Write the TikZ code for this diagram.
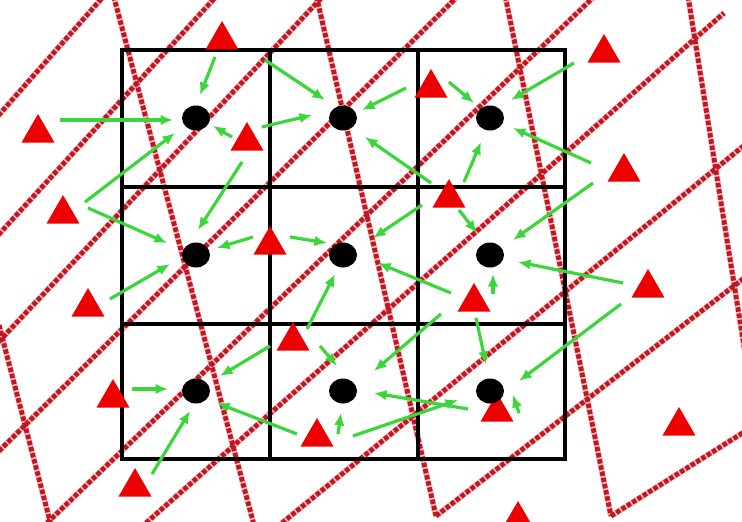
\documentclass[tikz,border=0pt]{standalone}
\usetikzlibrary{shapes.geometric,arrows.meta,calc}

\definecolor{meshred}{RGB}{196,22,34}
\definecolor{meshpink}{RGB}{246,196,196}
\definecolor{srcred}{RGB}{236,0,0}
\definecolor{flowgreen}{RGB}{58,214,58}

\begin{document}
\begin{tikzpicture}[
    x=1pt, y=-1pt,
    meshhalo/.style={line width=6pt, meshpink},
    meshline/.style={line width=4.8pt, meshred, dash pattern=on 4.5pt off 1.8pt},
    cellline/.style={line width=3.8pt, black},
    src/.style={regular polygon, regular polygon sides=3, fill=srcred,
                minimum size=38pt, inner sep=0pt},
    dot/.style={ellipse, fill=black, minimum width=28pt, minimum height=25pt,
                inner sep=0pt},
    flow/.style={-{Latex[length=12.5pt,width=10.5pt]}, line width=3.2pt, flowgreen},
  ]
  \useasboundingbox (0,0) rectangle (742,522);
  \fill[white] (0,0) rectangle (742,522);

  % --- red target mesh (two families of dashed lines) ---
  \def\meshlines{-10/125/110/-11, -10/244/223/-11, -10/351/326/-7,
    -10/460/465/-11, 47/523/602/-11, 146/523/724/13, 282/523/752/139,
    436/516/752/272, 611/516/752/427,
    -1/325/51/525, 112/-10/254/525, 315/-10/436/516, 504/-10/611/516,
    687/-10/752/396}
  \begin{scope}
    \clip (0,0) rectangle (742,522);
    \foreach \xa/\ya/\xb/\yb in \meshlines
      \draw[meshhalo] (\xa,\ya) -- (\xb,\yb);
    \foreach \xa/\ya/\xb/\yb in \meshlines
      \draw[meshline] (\xa,\ya) -- (\xb,\yb);
  \end{scope}

  % --- black source cells ---
  \draw[cellline] (122,50) rectangle (565,459);
  \foreach \gx in {270,418}
    \draw[cellline] (\gx,50) -- (\gx,459);
  \foreach \gy in {187,324}
    \draw[cellline] (122,\gy) -- (565,\gy);

  % --- cell centres ---
  \foreach \r/\gy in {1/118,2/255,3/391}
    \foreach \c/\gx in {1/196,2/343,3/490}
      \coordinate (c\r\c) at (\gx,\gy);

  % --- target points ---
  \node[src] (p1)  at (222,40)  {};
  \node[src] (p2)  at (38,133)  {};
  \node[src] (p3)  at (247,141) {};
  \node[src] (p4)  at (63,214)  {};
  \node[src] (p5)  at (270,245) {};
  \node[src] (p6)  at (604,53)  {};
  \node[src] (p7)  at (431,88)  {};
  \node[src] (p8)  at (624,172) {};
  \node[src] (p9)  at (449,198) {};
  \node[src] (p10) at (88,307)  {};
  \node[src] (p11) at (113,398) {};
  \node[src] (p12) at (135,487) {};
  \node[src] (p13) at (293,341) {};
  \node[src] (p14) at (317,437) {};
  \node[src] (p15) at (474,302) {};
  \node[src] (p16) at (648,288) {};
  \node[src] (p17) at (497,412) {};
  \node[src] (p18) at (679,426) {};
  \node[src] (p19) at (518,520) {};

  \foreach \r in {1,2,3}
    \foreach \c in {1,2,3}
      \node[dot] (d\r\c) at (c\r\c) {};

  % --- contributions, tips end at the dots ---
  \draw[flow] ($(p1)+(-7,17)$)   -- ($(d11)+(4,-23)$);
  \draw[flow] ($(p2)+(22,-13)$)  -- ($(d11)+(-23,2)$);
  \draw[flow] ($(p3)+(-15,-4)$)  -- ($(d11)+(17,8)$);
  \draw[flow] ($(p3)+(15,-14)$)  -- ($(d12)+(-31,-3)$);
  \draw[flow] ($(p4)+(22,-12)$)  -- ($(d11)+(-21,15)$);
  \draw[flow] ($(p4)+(25,-6)$)   -- ($(d21)+(-29,-12)$);
  \draw[flow] ($(p3)+(-5,21)$)   -- ($(d21)+(2,-25)$);
  \draw[flow] ($(p5)+(-17,-8)$)  -- ($(d21)+(21,-7)$);
  \draw[flow] ($(p5)+(20,-8)$)   -- ($(d22)+(-16,-12)$);
  \draw[flow] ($(p1)+(43,20)$)   -- ($(d12)+(-18,-18)$);
  \draw[flow] ($(p7)+(-25,0)$)   -- ($(d12)+(19,-8)$);
  \draw[flow] ($(p7)+(18,-6)$)   -- ($(d13)+(-16,-15)$);
  \draw[flow] ($(p6)+(-30,10)$)  -- ($(d13)+(21,-18)$);
  \draw[flow] ($(p8)+(-33,-9)$)  -- ($(d13)+(23,10)$);
  \draw[flow] ($(p9)+(-18,-15)$) -- ($(d12)+(22,19)$);
  \draw[flow] ($(p9)+(15,-16)$)  -- ($(d13)+(-9,24)$);
  \draw[flow] ($(p9)+(-27,7)$)   -- ($(d22)+(30,-17)$);
  \draw[flow] ($(p9)+(10,12)$)   -- ($(d23)+(-13,-22)$);
  \draw[flow] ($(p8)+(-31,11)$)  -- ($(d23)+(23,-15)$);
  \draw[flow] ($(p16)+(-25,-5)$) -- ($(d23)+(28,7)$);
  \draw[flow] ($(p10)+(22,-8)$)  -- ($(d21)+(-26,9)$);
  \draw[flow] ($(p11)+(19,-9)$)  -- ($(d31)+(-28,-2)$);
  \draw[flow] ($(p12)+(17,-13)$) -- ($(d31)+(-6,20)$);
  \draw[flow] ($(p13)+(-23,5)$)  -- ($(d31)+(24,-15)$);
  \draw[flow] ($(p14)+(-20,-3)$) -- ($(d31)+(21,12)$);
  \draw[flow] ($(p13)+(14,-12)$) -- ($(d22)+(-8,19)$);
  \draw[flow] ($(p13)+(27,5)$)   -- ($(d32)+(-6,-25)$);
  \draw[flow] ($(p14)+(21,-3)$)  -- ($(d32)+(-2,22)$);
  \draw[flow] ($(p14)+(36,-1)$)  -- ($(d33)+(-32,9)$);
  \draw[flow] ($(p15)+(-23,-9)$) -- ($(d22)+(35,8)$);
  \draw[flow] ($(p15)+(19,-8)$)  -- ($(d23)+(3,19)$);
  \draw[flow] ($(p15)+(-33,12)$) -- ($(d32)+(31,-20)$);
  \draw[flow] ($(p15)+(2,16)$)   -- ($(d33)+(-4,-27)$);
  \draw[flow] ($(p16)+(-27,16)$) -- ($(d33)+(29,-10)$);
  \draw[flow] ($(p17)+(22,1)$)   -- ($(d33)+(23,4)$);
  \draw[flow] ($(p17)+(-29,-3)$) -- ($(d32)+(31,2)$);
\end{tikzpicture}
\end{document}
